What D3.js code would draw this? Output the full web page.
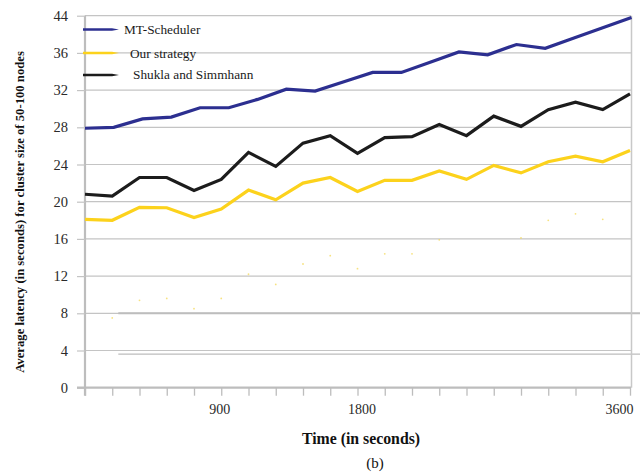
<!DOCTYPE html>
<html>
<head>
<meta charset="utf-8">
<script src="https://cdn.jsdelivr.net/npm/d3@7/dist/d3.min.js"></script>
<style>
  html, body { margin: 0; padding: 0; background: #fff; }
  svg { display: block; }
</style>
</head>
<body>
<svg id="chart" width="640" height="472"></svg>
<script>
// ---------- data ----------
const seriesNames = ["MT-Scheduler", "Our strategy", "Shukla and Simmhann"];
// time samples (seconds) for "Our strategy" and "Shukla and Simmhann"
const times = [0, 180, 360, 540, 720, 900, 1080, 1260, 1440, 1620, 1800,
               1980, 2160, 2340, 2520, 2700, 2880, 3060, 3240, 3420, 3600];
// MT-Scheduler is drawn with 20 evenly spaced samples across the same span
const mtScheduler = [27.9, 28.0, 28.9, 29.1, 30.1, 30.1, 31.0, 32.1, 31.9, 32.9,
                     33.9, 33.9, 35.0, 36.1, 35.8, 36.9, 36.5, 37.6, 38.7, 39.8];
const ourStrategy = [18.1, 18.0, 19.4, 19.35, 18.3, 19.2, 21.25, 20.2, 22.0, 22.6, 21.1,
                     22.3, 22.3, 23.3, 22.4, 23.9, 23.1, 24.3, 24.9, 24.3, 25.5];
const shukla = [20.8, 20.6, 22.6, 22.6, 21.2, 22.4, 25.3, 23.8, 26.3, 27.1, 25.2,
                26.9, 27.0, 28.3, 27.1, 29.2, 28.1, 29.9, 30.7, 29.9, 31.6];
// faint yellow specks visible in the picture (scan residue)
const faintSpecks = [null, 7.5, 9.4, 9.6, 8.5, 9.6, 12.2, 11.1, 13.3, 14.2, 12.8,
                     14.4, 14.4, 15.9, null, null, 16.1, 18.0, 18.7, 18.1, null];
// stray horizontal rules visible in the picture (value, start time)
const strayRules = [[8, 220], [3.6, 220]];

const yTickValues = [0, 4, 8, 12, 16, 20, 24, 28, 32, 36, 40];
const yTickLabels = ["0", "4", "8", "12", "16", "20", "24", "28", "32", "36", "44"];
const xTickValues = times;
const xLabelValues = [900, 1800, 3600];

const yTitle = "Average latency (in seconds) for cluster size of 50-100 nodes";
const xTitle = "Time (in seconds)";
const caption = "(b)";

// ---------- layout ----------
const colors = ["#2c2f90", "#fcd21c", "#1c1c1c"];
const pLeft = 85, pRight = 630, pTop = 15.7, pBottom = 387.7;
const serif = "'Liberation Serif', 'Times New Roman', serif";

const svg = d3.select("#chart");

const x = d3.scaleLinear().domain([0, 3600]).range([pLeft, pRight]);
const xMT = d3.scaleLinear().domain([0, mtScheduler.length - 1]).range([pLeft, pRight + 1.5]);
const y = d3.scaleLinear().domain([0, 40]).range([pBottom, pTop]);

// gridlines
svg.append("g").selectAll("line").data(yTickValues.filter(v => v > 0)).join("line")
  .attr("x1", pLeft).attr("x2", pRight + 1)
  .attr("y1", d => y(d)).attr("y2", d => y(d))
  .attr("stroke", "#c4c4c4").attr("stroke-width", 1.2);

// stray rules
svg.append("g").selectAll("line").data(strayRules).join("line")
  .attr("x1", d => x(d[1])).attr("x2", 640)
  .attr("y1", d => y(d[0])).attr("y2", d => y(d[0]))
  .attr("stroke", "#bdbdbd").attr("stroke-width", (d, i) => i === 0 ? 2 : 1.3);

// right border
svg.append("line").attr("x1", pRight + 1.5).attr("x2", pRight + 1.5)
  .attr("y1", pTop).attr("y2", pBottom)
  .attr("stroke", "#c8c8c8").attr("stroke-width", 1.5);

// y axis
const yAxis = d3.axisLeft(y).tickValues(yTickValues)
  .tickFormat((d, i) => yTickLabels[i]).tickSize(8).tickPadding(9);
const gy = svg.append("g").attr("transform", `translate(${pLeft},0)`).call(yAxis);
gy.select(".domain").attr("stroke", "#bdbdbd").attr("stroke-width", 2.2)
  .attr("d", `M0,${pTop}V${pBottom + 8}`);
gy.selectAll(".tick line").attr("stroke", "#c4c4c4").attr("stroke-width", 1.2);
gy.selectAll(".tick text").attr("font-family", serif).attr("font-size", 14.5)
  .attr("fill", "#2a2a2a");

// x axis
const xAxis = d3.axisBottom(x).tickValues(xTickValues)
  .tickFormat(d => xLabelValues.includes(d) ? String(d) : "")
  .tickSize(8).tickPadding(8);
const gx = svg.append("g").attr("transform", `translate(0,${pBottom})`).call(xAxis);
gx.select(".domain").attr("stroke", "#bdbdbd").attr("stroke-width", 2.2)
  .attr("d", `M${pLeft - 8},0H${pRight + 1}`);
gx.selectAll(".tick line").attr("stroke", "#bdbdbd").attr("stroke-width", 1.3);
gx.selectAll(".tick text").attr("font-family", serif).attr("font-size", 14)
  .attr("fill", "#2a2a2a")
  .attr("text-anchor", d => d === 3600 ? "end" : "middle")
  .attr("dx", d => d === 3600 ? 3 : (d === 900 ? -2 : 4));

// faint specks
svg.append("g").selectAll("circle")
  .data(faintSpecks.map((v, i) => [times[i], v]).filter(d => d[1] !== null))
  .join("circle")
  .attr("cx", d => x(d[0])).attr("cy", d => y(d[1])).attr("r", 0.9)
  .attr("fill", "#f4d64a").attr("opacity", 0.7);

// lines
const lineT = d3.line().x((d, i) => x(times[i])).y(d => y(d));
const lineMT = d3.line().x((d, i) => xMT(i)).y(d => y(d));

svg.append("path").datum(ourStrategy).attr("d", lineT)
  .attr("fill", "none").attr("stroke", colors[1]).attr("stroke-width", 3.2)
  .attr("stroke-linejoin", "miter");
svg.append("path").datum(shukla).attr("d", lineT)
  .attr("fill", "none").attr("stroke", colors[2]).attr("stroke-width", 3.2)
  .attr("stroke-linejoin", "miter");
svg.append("path").datum(mtScheduler).attr("d", lineMT)
  .attr("fill", "none").attr("stroke", colors[0]).attr("stroke-width", 3.2)
  .attr("stroke-linejoin", "miter");

// legend
const legendRows = [
  { name: seriesNames[0], color: colors[0], ly: 29.5, tx: 124, ty: 34 },
  { name: seriesNames[1], color: colors[1], ly: 53, tx: 130, ty: 57.5 },
  { name: seriesNames[2], color: colors[2], ly: 75, tx: 133, ty: 79 }
];
const lg = svg.append("g");
legendRows.forEach(r => {
  lg.append("path")
    .attr("d", `M83,${r.ly - 1.3}H112L119,${r.ly}L112,${r.ly + 1.3}H83Z`)
    .attr("fill", r.color);
  lg.append("text").attr("x", r.tx).attr("y", r.ty).text(r.name)
    .attr("font-family", serif).attr("font-size", 13.3).attr("fill", "#1a1a1a");
});

// titles
svg.append("text")
  .attr("transform", "translate(24,212) rotate(-90)")
  .attr("text-anchor", "middle")
  .attr("font-family", serif).attr("font-weight", "bold").attr("font-size", 12.7)
  .attr("fill", "#111").text(yTitle);
svg.append("text").attr("x", 361).attr("y", 443.5).attr("text-anchor", "middle")
  .attr("font-family", serif).attr("font-weight", "bold").attr("font-size", 15.8)
  .attr("fill", "#111").text(xTitle);
svg.append("text").attr("x", 375).attr("y", 468).attr("text-anchor", "middle")
  .attr("font-family", serif).attr("font-size", 15)
  .attr("fill", "#111").text(caption);
</script>
</body>
</html>
